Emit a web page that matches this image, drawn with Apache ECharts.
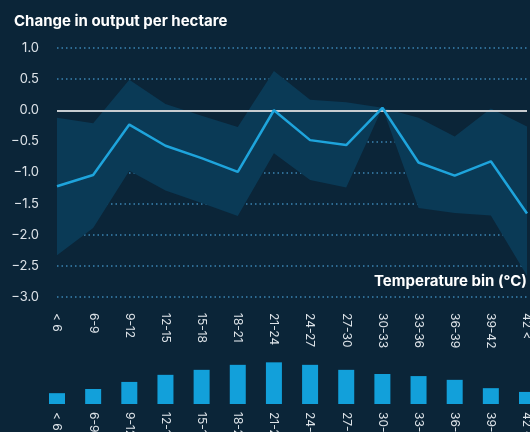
<!DOCTYPE html>
<html>
<head>
<meta charset="utf-8">
<script src="https://cdn.jsdelivr.net/npm/echarts@6/dist/echarts.min.js"></script>
<style>
  html, body { margin: 0; padding: 0; background: #0b2538; }
  #chart { width: 530px; height: 432px; }
</style>
</head>
<body>
<div id="chart"></div>
<script>
// Temperature bins (°C)
const bins = ['< 6', '6-9', '9-12', '12-15', '15-18', '18-21', '21-24', '24-27', '27-30', '30-33', '33-36', '36-39', '39-42', '42 <'];

// Estimated change in output per hectare, with confidence band
const estimate = [-1.22, -1.04, -0.23, -0.57, -0.77, -0.99, 0.0, -0.48, -0.56, 0.04, -0.84, -1.05, -0.82, -1.66];
const upperBound = [-0.12, -0.21, 0.49, 0.10, -0.09, -0.27, 0.63, 0.17, 0.13, 0.04, -0.12, -0.42, 0.03, -0.26];
const lowerBound = [-2.33, -1.89, -0.97, -1.29, -1.49, -1.70, -0.69, -1.12, -1.24, 0.04, -1.57, -1.65, -1.69, -2.66];

// Share of observations in each bin (%)
const share = [2.6, 3.6, 5.3, 7.0, 8.2, 9.4, 10.0, 9.4, 8.2, 7.2, 6.7, 5.8, 3.8, 2.9];

const yTicks = { min: -3, max: 1, interval: 0.5 };

const bandWidth = upperBound.map((u, i) => +(u - lowerBound[i]).toFixed(3));

const labelColor = '#dde3e8';
const fmtTick = v => (v < 0 ? '\u2212' : '') + Math.abs(v).toFixed(1);

const chart = echarts.init(document.getElementById('chart'));
chart.setOption({
  backgroundColor: '#0b2538',
  animation: false,
  textStyle: { fontFamily: 'Inter, "Noto Sans", sans-serif' },
  title: {
    text: 'Change in output per hectare',
    left: 9, top: 9,
    textStyle: { color: '#ffffff', fontSize: 15, fontWeight: 'bold', fontFamily: 'Inter, sans-serif' }
  },
  graphic: [{
    type: 'text',
    right: 3, top: 274,
    style: {
      text: 'Temperature bin (°C)',
      fill: '#ffffff',
      font: 'bold 15px Inter, sans-serif'
    }
  }],
  grid: [
    { left: 57, right: 3, top: 48, height: 249, outerBoundsMode: 'none', containLabel: false },
    { left: 57, right: 3, top: 354, height: 50, outerBoundsMode: 'none', containLabel: false }
  ],
  xAxis: [{
    gridIndex: 0,
    type: 'category',
    data: bins,
    boundaryGap: false,
    axisLine: { show: false },
    axisTick: { show: false },
    splitLine: { show: false },
    axisLabel: { rotate: -90, margin: 16, color: labelColor, fontSize: 12, interval: 0 }
  }, {
    gridIndex: 1,
    type: 'category',
    data: bins,
    boundaryGap: false,
    axisLine: { show: false },
    axisTick: { show: false },
    axisLabel: { rotate: -90, margin: 8, color: labelColor, fontSize: 12, interval: 0 }
  }],
  yAxis: [{
    gridIndex: 0,
    type: 'value',
    min: yTicks.min, max: yTicks.max, interval: yTicks.interval,
    axisLine: { show: false },
    axisTick: { show: false },
    axisLabel: { color: labelColor, fontSize: 13, margin: 18, formatter: fmtTick },
    splitLine: { lineStyle: { color: '#3b84b2', type: [1.5, 3], width: 1.5 } }
  }, {
    gridIndex: 1,
    type: 'value',
    min: 0, max: 12,
    show: false
  }],
  series: [{
    name: 'lower',
    type: 'line',
    data: lowerBound,
    stack: 'band',
    stackStrategy: 'all',
    symbol: 'none',
    lineStyle: { opacity: 0 },
    silent: true
  }, {
    name: 'band',
    type: 'line',
    data: bandWidth,
    stack: 'band',
    stackStrategy: 'all',
    symbol: 'none',
    lineStyle: { opacity: 0 },
    areaStyle: { color: '#0a3a56', opacity: 1 },
    silent: true
  }, {
    name: 'estimate',
    type: 'line',
    data: estimate,
    symbol: 'none',
    z: 5,
    lineStyle: { color: '#1ea4dc', width: 2.5 },
    markLine: {
      silent: true,
      symbol: 'none',
      label: { show: false },
      lineStyle: { color: '#c8ccd0', width: 2, type: 'solid' },
      data: [{ yAxis: 0 }]
    }
  }, {
    name: 'share',
    type: 'bar',
    xAxisIndex: 1,
    yAxisIndex: 1,
    data: share,
    barWidth: 16,
    itemStyle: { color: '#12a0da' }
  }]
});
</script>
</body>
</html>
